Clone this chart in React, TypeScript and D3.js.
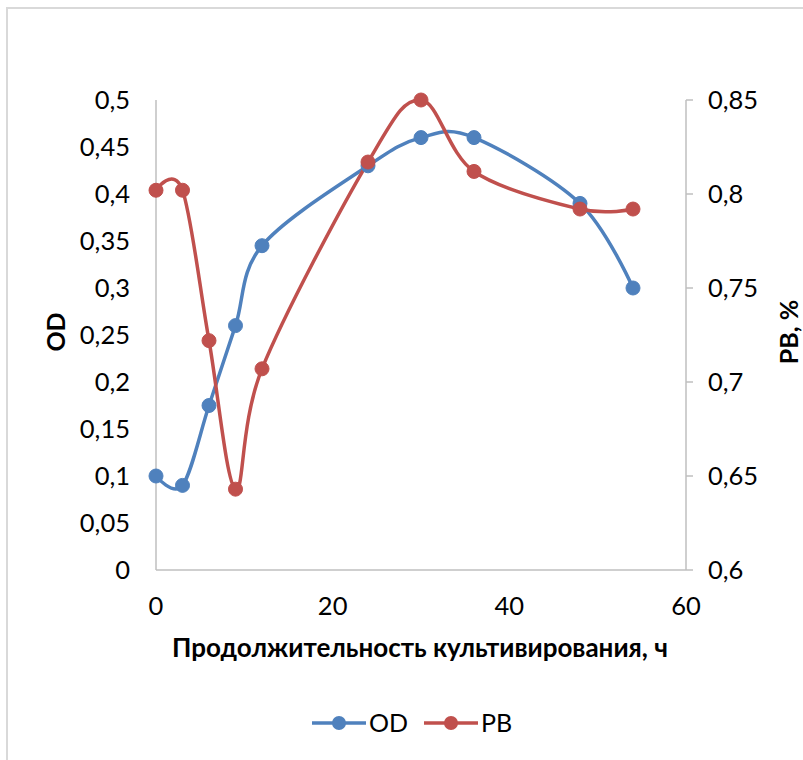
import React from "react";
import * as d3 from "d3";

const hours = [0, 3, 6, 9, 12, 24, 30, 36, 48, 54];
const odValues = [0.1, 0.09, 0.175, 0.26, 0.345, 0.43, 0.46, 0.46, 0.39, 0.3];
const pbValues = [0.802, 0.802, 0.722, 0.643, 0.707, 0.817, 0.85, 0.812, 0.792, 0.792];
const leftTicks = [0, 0.05, 0.1, 0.15, 0.2, 0.25, 0.3, 0.35, 0.4, 0.45, 0.5];
const rightTicks = [0.6, 0.65, 0.7, 0.75, 0.8, 0.85];
const xTicks = [0, 20, 40, 60];
const seriesNames = ["OD", "PB"];
const xTitle = "Продолжительность культивирования, ч";
const leftTitle = "OD";
const rightTitle = "PB, %";

const W = 803;
const H = 760;
const FONT = "Lato, 'Open Sans', sans-serif";
const BLUE = "#4F81BD";
const RED = "#C0504D";
const AXIS = "#BFBFBF";
const TICK_FS = 25.5;
const TITLE_FS = 25;

const fmt = (v: number) => String(+v.toFixed(2)).replace(".", ",");

export default function App() {
  const x = d3.scaleLinear().domain([0, 60]).range([156, 686]);
  const yL = d3.scaleLinear().domain([0, 0.5]).range([570, 100]);
  const yR = d3.scaleLinear().domain([0.6, 0.85]).range([570, 100]);
  const curve = d3.curveCatmullRom.alpha(0);
  const lineOD = d3.line<number>().x((_, i) => x(hours[i])).y((d) => yL(d)).curve(curve);
  const linePB = d3.line<number>().x((_, i) => x(hours[i])).y((d) => yR(d)).curve(curve);

  const legend = [
    { name: seriesNames[0], color: BLUE, x0: 312 },
    { name: seriesNames[1], color: RED, x0: 424 },
  ];

  return (
    <svg width={W} height={H} style={{ position: "absolute", left: 0, top: 0 }}>
      <rect x={0} y={0} width={W} height={H} fill="#fff" />
      <rect x={7} y={8} width={W + 20} height={H + 20} fill="none" stroke="#D9D9D9" strokeWidth={2} />
      {/* axes */}
      <line x1={156} x2={156} y1={yL(0.5)} y2={yL(0)} stroke={AXIS} strokeWidth={1.5} />
      <line x1={156} x2={686} y1={yL(0)} y2={yL(0)} stroke={AXIS} strokeWidth={1.5} />
      <line x1={686} x2={686} y1={yR(0.85)} y2={yR(0.6)} stroke={AXIS} strokeWidth={1.5} />
      {rightTicks.map((t) => (
        <line key={"rt" + t} x1={686} x2={693} y1={yR(t)} y2={yR(t)} stroke={AXIS} strokeWidth={1.5} />
      ))}
      {leftTicks.map((t) => (
        <text key={"l" + t} x={130} y={yL(t)} dy="0.35em" textAnchor="end" fontFamily={FONT} fontSize={TICK_FS} fill="#000">
          {fmt(t)}
        </text>
      ))}
      {rightTicks.map((t) => (
        <text key={"r" + t} x={708} y={yR(t)} dy="0.35em" textAnchor="start" fontFamily={FONT} fontSize={TICK_FS} fill="#000">
          {fmt(t)}
        </text>
      ))}
      {xTicks.map((t) => (
        <text key={"x" + t} x={x(t)} y={606} dy="0.35em" textAnchor="middle" fontFamily={FONT} fontSize={TICK_FS} fill="#000">
          {fmt(t)}
        </text>
      ))}
      <text x={420} y={648} dy="0.35em" textAnchor="middle" fontFamily={FONT} fontWeight="bold" fontSize={26} fill="#000">
        {xTitle}
      </text>
      <text transform="translate(56,332) rotate(-90)" dy="0.35em" textAnchor="middle" fontFamily={FONT} fontWeight="bold" fontSize={TITLE_FS} fill="#000">
        {leftTitle}
      </text>
      <text transform="translate(789,332) rotate(-90)" dy="0.35em" textAnchor="middle" fontFamily={FONT} fontWeight="bold" fontSize={TITLE_FS} fill="#000">
        {rightTitle}
      </text>
      {/* series */}
      <path d={lineOD(odValues) || ""} fill="none" stroke={BLUE} strokeWidth={3.5} strokeLinecap="round" />
      <path d={linePB(pbValues) || ""} fill="none" stroke={RED} strokeWidth={3.5} strokeLinecap="round" />
      {odValues.map((v, i) => (
        <circle key={"o" + i} cx={x(hours[i])} cy={yL(v)} r={7} fill={BLUE} stroke={BLUE} />
      ))}
      {pbValues.map((v, i) => (
        <circle key={"p" + i} cx={x(hours[i])} cy={yR(v)} r={7} fill={RED} stroke={RED} />
      ))}
      {/* legend */}
      {legend.map((l) => (
        <g key={l.name}>
          <line x1={l.x0} x2={l.x0 + 54} y1={723} y2={723} stroke={l.color} strokeWidth={3.5} />
          <circle cx={l.x0 + 27} cy={723} r={7} fill={l.color} />
          <text x={l.x0 + 57} y={723} dy="0.35em" fontFamily={FONT} fontSize={TITLE_FS} fill="#000">
            {l.name}
          </text>
        </g>
      ))}
    </svg>
  );
}
